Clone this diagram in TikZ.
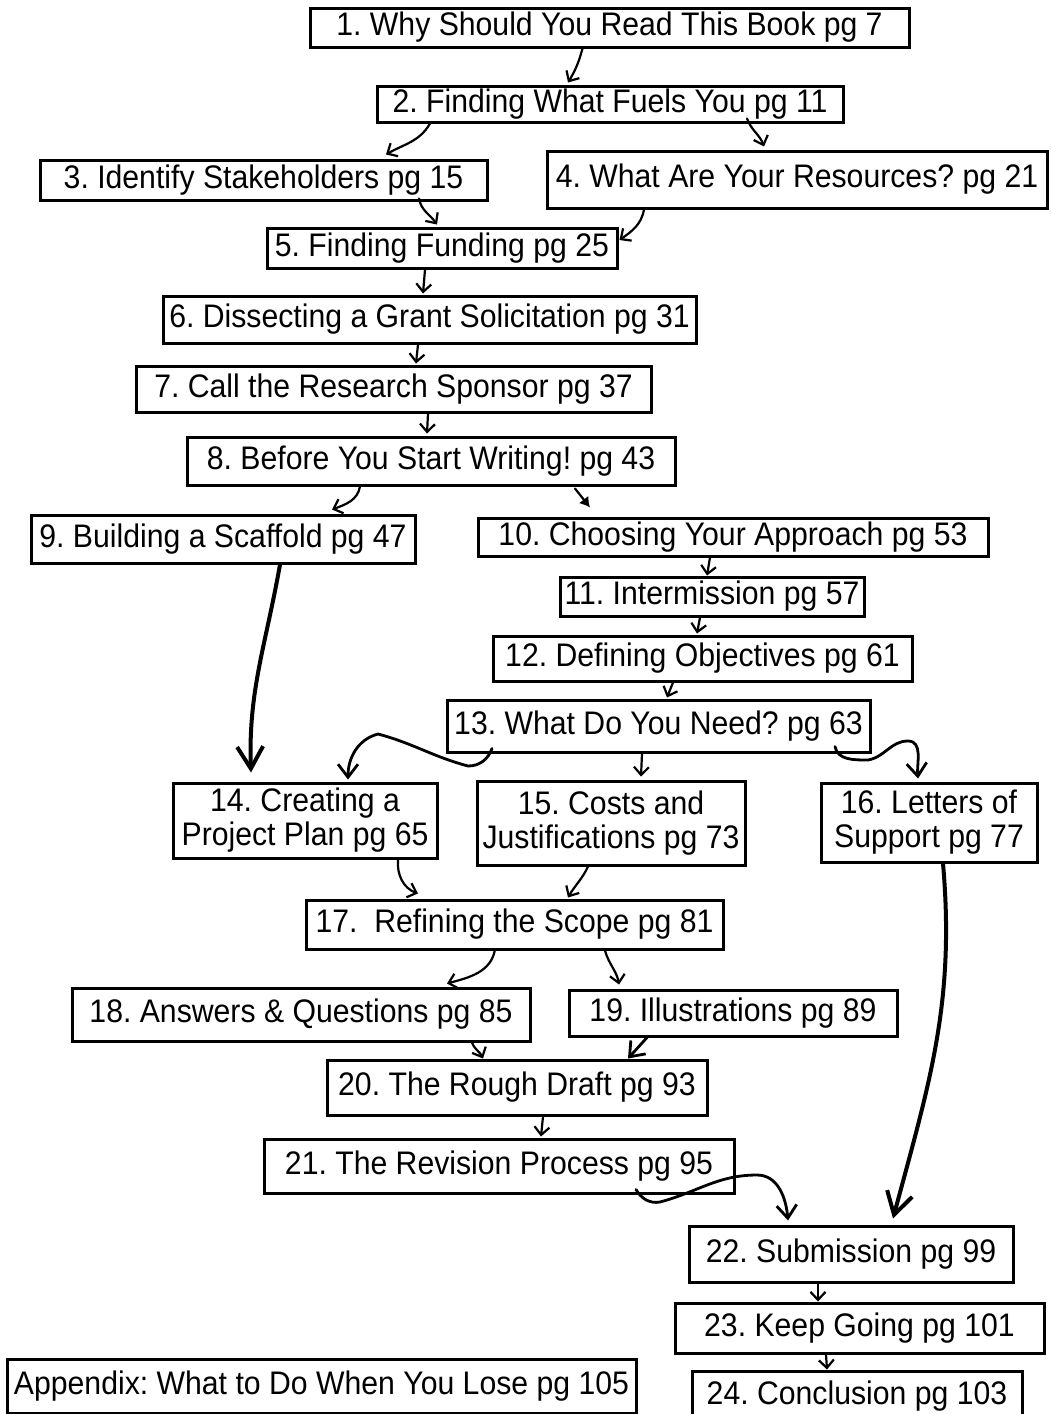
\documentclass[tikz,border=0pt]{standalone}
\usepackage{fontspec}
\setmainfont{Liberation Sans}
\usepackage{graphicx}
\usetikzlibrary{arrows.meta}
\newcommand{\tx}[1]{\scalebox{1}[1.08]{#1}}
\frenchspacing
\begin{document}
\frenchspacing
\begin{tikzpicture}[x=1pt,y=-1pt,
  box/.style={draw, line width=3pt, inner sep=0pt, align=center, font={\fontsize{30.2}{34}\selectfont}},
  arr/.style={line width=2.2pt, line cap=round, line join=round, -{Straight Barb[length=8pt,width=15pt]}},
  marr/.style={line width=2.8pt, line cap=round, line join=round, -{Straight Barb[length=13pt,width=20pt]}},
  barr/.style={line width=4pt, line cap=round, line join=round, -{Straight Barb[length=22pt,width=26pt]}},
  farr/.style={line width=2.2pt, line cap=round, -{Latex[length=10pt,width=12pt]}},
]
\fill[white] (0,0) rectangle (1050,1414);
\useasboundingbox (0,0) rectangle (1050,1414);

\node[box, minimum width=599pt, minimum height=39pt] (n1) at (609.5,27.5) {\tx{1. Why Should You Read This Book pg 7}};
\node[box, minimum width=466pt, minimum height=36pt] (n2) at (610,104) {\tx{2. Finding What Fuels You pg 11}};
\node[box, minimum width=447pt, minimum height=40pt] (n3) at (263.5,180) {\tx{3. Identify Stakeholders pg 15}};
\node[box, minimum width=500pt, minimum height=57pt] (n4) at (797,179.5) {\tx{4. What Are Your Resources? pg 21}};
\node[box, minimum width=350pt, minimum height=40pt] (n5) at (442,248) {\tx{5. Finding Funding pg 25}};
\node[box, minimum width=533pt, minimum height=47pt] (n6) at (429.5,319.5) {\tx{6. Dissecting a Grant Solicitation pg 31}};
\node[box, minimum width=515pt, minimum height=46pt] (n7) at (393.5,389) {\tx{7. Call the Research Sponsor pg 37}};
\node[box, minimum width=488pt, minimum height=48pt] (n8) at (431,461) {\tx{8. Before You Start Writing! pg 43}};
\node[box, minimum width=384pt, minimum height=48pt] (n9) at (223,539) {\tx{9. Building a Scaffold pg 47}};
\node[box, minimum width=510pt, minimum height=38pt] (n10) at (733,537) {\tx{10. Choosing Your Approach pg 53}};
\node[box, minimum width=304pt, minimum height=39pt] (n11) at (712,596.5) {\tx{11. Intermission pg 57}};
\node[box, minimum width=419pt, minimum height=45pt] (n12) at (702.5,658.5) {\tx{12. Defining Objectives pg 61}};
\node[box, minimum width=423pt, minimum height=52pt] (n13) at (658.5,726) {\tx{13. What Do You Need? pg 63}};
\node[box, minimum width=264pt, minimum height=75pt] (n14) at (305,820.5) {\tx{14. Creating a}\\\tx{Project Plan pg 65}};
\node[box, minimum width=268pt, minimum height=84pt] (n15) at (611,823) {\tx{15. Costs and}\\\tx{Justifications pg 73}};
\node[box, minimum width=216pt, minimum height=79pt] (n16) at (929,822.5) {\tx{16. Letters of}\\\tx{Support pg 77}};
\node[box, minimum width=417pt, minimum height=49pt] (n17) at (514.5,924.5) {\tx{17.\ \ Refining the Scope pg 81}};
\node[box, minimum width=458pt, minimum height=53pt] (n18) at (301,1014.5) {\tx{18. Answers \& Questions pg 85}};
\node[box, minimum width=328pt, minimum height=46pt] (n19) at (733,1013) {\tx{19. Illustrations pg 89}};
\node[box, minimum width=380pt, minimum height=55pt] (n20) at (517,1087.5) {\tx{20. The Rough Draft pg 93}};
\node[box, minimum width=470pt, minimum height=54pt] (n21) at (499,1166) {\tx{21. The Revision Process pg 95}};
\node[box, minimum width=324pt, minimum height=56pt] (n22) at (851,1254) {\tx{22. Submission pg 99}};
\node[box, minimum width=369pt, minimum height=50pt] (n23) at (859.5,1328) {\tx{23. Keep Going pg 101}};
\node[box, minimum width=330pt, minimum height=50pt] (n24) at (857,1396) {\tx{24. Conclusion pg 103}};
\node[box, minimum width=629pt, minimum height=54pt] (app) at (321.5,1386) {\tx{Appendix: What to Do When You Lose pg 105}};

% connectors
\draw[arr] ([xshift=-27]n1.south) to[bend left=8] ([xshift=-42,yshift=2]n2.north);
\draw[arr] ([xshift=-180]n2.south) to[out=-120,in=30] ([xshift=122.5,yshift=4]n3.north);
\draw[arr] ([xshift=137,yshift=5]n2.south) to[out=-70,in=110] ([xshift=-33,yshift=3]n4.north);
\draw[arr] ([xshift=155.5,yshift=3]n3.south) to[out=-80,in=125] ([xshift=-5,yshift=2]n5.north);
\draw[arr] ([xshift=-153]n4.south) to[out=-100,in=35] ([xshift=1,yshift=8]n5.east);
\draw[arr] ([xshift=-17]n5.south) -- ([xshift=-6.5,yshift=1]n6.north);
\draw[arr] ([xshift=-11.5]n6.south) -- ([xshift=22.5,yshift=1]n7.north);
\draw[arr] ([xshift=34.5]n7.south) -- ([xshift=-4,yshift=2]n8.north);
\draw[arr] ([xshift=-71]n8.south) to[out=-100,in=20] ([xshift=109,yshift=4]n9.north);
\draw[farr] ([xshift=144,yshift=-2]n8.south) -- ([xshift=-143,yshift=9]n10.north);
\draw[arr] ([xshift=-23]n10.south) -- ([xshift=-5]n11.north);
\draw[arr] ([xshift=-12]n11.south) -- ([xshift=-5.5,yshift=1]n12.north);
\draw[arr] ([xshift=-29.5]n12.south) -- ([xshift=8.5,yshift=1]n13.north);
\draw[arr] ([xshift=-16.5]n13.south) -- ([xshift=30,yshift=3]n15.north);
\draw[marr] ([xshift=-166.5,yshift=5]n13.south) to[out=-110,in=0] (468,766)
   to[out=165,in=-15] (378,734) to[out=195,in=90] ([xshift=43,yshift=2]n14.north);
\draw[marr] ([xshift=176.5,yshift=7]n13.south) to[out=-80,in=180] (868,760)
   to[out=10,in=180] (908,741) to[out=0,in=95] ([xshift=-11,yshift=3]n16.north);
\draw[barr] ([xshift=57]n9.south) to[out=-100,in=92] ([xshift=-54,yshift=9]n14.north);
\draw[arr] ([xshift=93]n14.south) to[out=-95,in=160] ([xshift=-96.5,yshift=5]n17.north);
\draw[arr] ([xshift=-23]n15.south) to[out=-115,in=60] ([xshift=53.5,yshift=1]n17.north);
\draw[barr] ([xshift=14]n16.south) to[out=-85,in=75] ([xshift=42,yshift=6]n22.north);
\draw[arr] ([xshift=-19.5,yshift=1]n17.south) to[out=-100,in=15] ([xshift=146,yshift=3]n18.north);
\draw[arr] ([xshift=90.5]n17.south) to[out=-75,in=100] ([xshift=-114,yshift=4]n19.north);
\draw[arr] ([xshift=171]n18.south) to[out=-70,in=115] ([xshift=-34]n20.north);
\draw[marr] ([xshift=-86]n19.south) -- ([xshift=111]n20.north);
\draw[arr] ([xshift=26]n20.south) -- ([xshift=42,yshift=1]n21.north);
\draw[marr] ([xshift=137,yshift=5]n21.south) to[out=-60,in=190] (660,1202)
   to[out=15,in=180] (757,1175) to[out=0,in=95] ([xshift=-63,yshift=4]n22.north);
\draw[arr] ([xshift=-33]n22.south) -- ([xshift=-41.5]n23.north);
\draw[arr] ([xshift=-33.5]n23.south) -- ([xshift=-30]n24.north);
\end{tikzpicture}
\end{document}
